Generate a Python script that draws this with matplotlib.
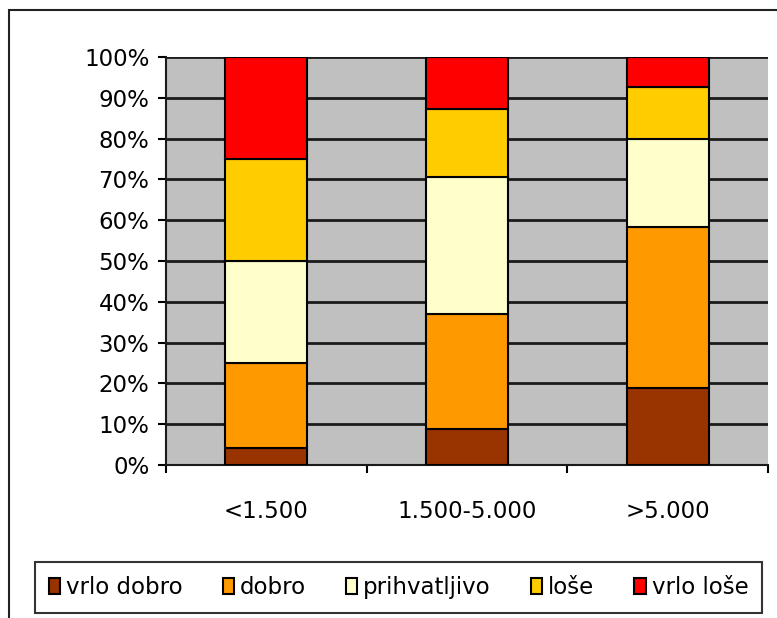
import matplotlib.pyplot as plt
import numpy as np
from matplotlib.patches import Rectangle
from matplotlib.ticker import FixedLocator, PercentFormatter

plt.rcParams['font.family'] = ['DejaVu Sans']

# Category labels and percentage shares
categories = ["<1.500", "1.500-5.000", ">5.000"]
series_names = ["vrlo dobro", "dobro", "prihvatljivo", "loše", "vrlo loše"]
vrlo_dobro = [4.2, 8.8, 18.9]
dobro = [20.8, 28.2, 39.5]
prihvatljivo = [25.0, 33.7, 21.5]
lose = [25.0, 16.6, 12.8]
vrlo_lose = [25.0, 12.7, 7.3]
colors = ["#993300", "#FF9900", "#FFFFCC", "#FFCC00", "#FF0000"]

fig = plt.figure(figsize=(7.77, 6.18), dpi=100)
fig.patch.set_facecolor("white")

# outer chart border
fig.add_artist(Rectangle((9 / 777, -0.01), 1.0, 1 - 10 / 618 + 0.01,
                         transform=fig.transFigure, fill=False,
                         edgecolor="#222222", linewidth=1.5))

ax = fig.add_axes([166 / 777, 1 - 465 / 618, (768 - 166) / 777, (465 - 57) / 618])
ax.set_facecolor("#C0C0C0")

x = np.arange(len(categories))
bottom = np.zeros(len(categories))
for name, vals, col in zip(series_names, [vrlo_dobro, dobro, prihvatljivo, lose, vrlo_lose], colors):
    ax.bar(x, vals, width=0.41, bottom=bottom, color=col, edgecolor="black",
           linewidth=1.5, label=name, zorder=3)
    bottom += np.array(vals)

ax.set_xlim(-0.5, len(categories) - 0.5)
ax.set_ylim(0, 100)
ax.yaxis.set_major_locator(FixedLocator(np.arange(0, 101, 10)))
ax.yaxis.set_major_formatter(PercentFormatter(decimals=0))
ax.grid(axis="y", color="#1a1a1a", linewidth=2, zorder=1)
ax.set_axisbelow(True)

ax.set_xticks(x)
ax.set_xticklabels(categories)
ax.xaxis.set_minor_locator(FixedLocator(np.arange(-0.5, len(categories), 1.0)))
ax.tick_params(axis="x", which="major", length=0, pad=25, labelsize=16.5)
ax.tick_params(axis="x", which="minor", length=6, width=1.5, direction="out")
ax.tick_params(axis="y", length=6, width=1.5, direction="out", labelsize=16.5, pad=6)

for s in ["top", "right"]:
    ax.spines[s].set_visible(False)
for s in ["left", "bottom"]:
    ax.spines[s].set_linewidth(1.5)
    ax.spines[s].set_color("#1a1a1a")

leg = fig.legend(loc="center", bbox_to_anchor=(398.5 / 777, 1 - 587.5 / 618),
                 ncol=5, fontsize=16.5, frameon=True, fancybox=False,
                 edgecolor="black", handlelength=0.5, handleheight=0.75,
                 handletextpad=0.25, columnspacing=1.75, borderpad=0.6)
leg.get_frame().set_linewidth(1.5)

fig.savefig("out.png", dpi=100)
